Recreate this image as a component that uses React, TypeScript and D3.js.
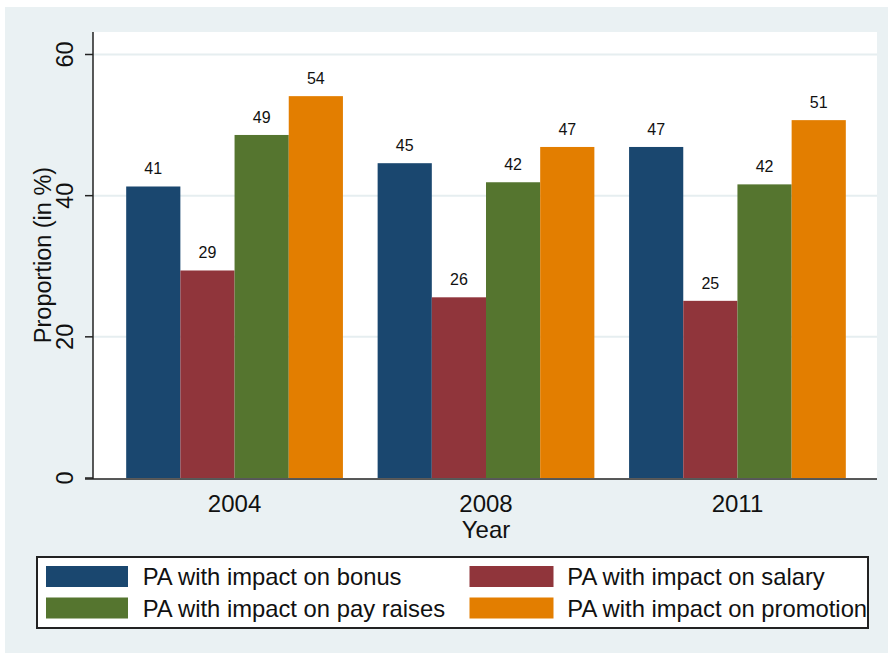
import React from "react";
import * as d3 from "d3";

const years = ["2004", "2008", "2011"];
const seriesNames = [
  "PA with impact on bonus",
  "PA with impact on salary",
  "PA with impact on pay raises",
  "PA with impact on promotion",
];
const bonus = [41.3, 44.6, 46.9];
const salary = [29.4, 25.6, 25.1];
const payRaises = [48.6, 41.9, 41.6];
const promotion = [54.1, 46.9, 50.7];
const colors = ["#1a476f", "#90353b", "#55752f", "#e37e00"];
const yTicks = [0, 20, 40, 60];

const W = 888;
const H = 653;
const plot = { left: 93, right: 877, top: 32, bottom: 479 };
const FONT = "'Liberation Sans', Arial, sans-serif";

export default function App() {
  const series = [bonus, salary, payRaises, promotion];
  const y = d3.scaleLinear().domain([0, 60]).range([478, 54.5]);
  const x0 = d3
    .scaleBand<string>()
    .domain(years)
    .range([plot.left + 1.5, plot.right + 0.5])
    .paddingInner(0.138)
    .paddingOuter(0.126);
  const x1 = d3
    .scaleBand<number>()
    .domain(d3.range(series.length))
    .range([0, x0.bandwidth()])
    .padding(0);
  const fmt = d3.format(".0f");

  const legendCols = [46, 469.5];
  const legendTextCols = [142.7, 567.3];
  const legendRows = [566, 597.5];

  return (
    <svg
      width={W}
      height={H}
      style={{ position: "absolute", left: 0, top: 0, display: "block" }}
      fontFamily={FONT}
    >
      <rect x={0} y={0} width={W} height={H} fill="#ffffff" />
      <rect x={5} y={7} width={W - 5} height={H - 7} fill="#eaf1f3" />
      <rect
        x={plot.left}
        y={plot.top}
        width={plot.right - plot.left}
        height={plot.bottom - plot.top}
        fill="#ffffff"
      />
      {/* gridlines */}
      {yTicks
        .filter((t) => t > 0)
        .map((t) => (
          <line
            key={"g" + t}
            x1={plot.left}
            x2={plot.right}
            y1={y(t)}
            y2={y(t)}
            stroke="#e6eef0"
            strokeWidth={2}
          />
        ))}
      {/* bars */}
      {years.map((yr, gi) => (
        <g key={yr} transform={`translate(${x0(yr)},0)`}>
          {series.map((s, si) => {
            const v = s[gi];
            const bx = x1(si) as number;
            const bw = x1.bandwidth();
            return (
              <g key={si}>
                <rect
                  x={bx}
                  y={y(v)}
                  width={bw}
                  height={y(0) - y(v)}
                  fill={colors[si]}
                />
                <text
                  x={bx + bw / 2}
                  y={y(v) - 12}
                  textAnchor="middle"
                  fontSize={16}
                  fill="#111"
                >
                  {fmt(v)}
                </text>
              </g>
            );
          })}
        </g>
      ))}
      {/* y axis */}
      <line
        x1={plot.left}
        x2={plot.left}
        y1={plot.top}
        y2={plot.bottom}
        stroke="#222"
        strokeWidth={1.5}
      />
      {yTicks.map((t) => (
        <g key={"t" + t}>
          <line
            x1={plot.left - 8}
            x2={plot.left}
            y1={y(t)}
            y2={y(t)}
            stroke="#222"
            strokeWidth={1.5}
          />
          <text
            transform={`translate(73,${y(t)}) rotate(-90)`}
            textAnchor="middle"
            fontSize={23.5}
            fill="#111"
          >
            {t}
          </text>
        </g>
      ))}
      <text
        transform={`translate(51,255) rotate(-90)`}
        textAnchor="middle"
        fontSize={23.5}
        fill="#111"
      >
        Proportion (in %)
      </text>
      {/* x axis */}
      <line
        x1={plot.left - 8}
        x2={plot.right}
        y1={plot.bottom}
        y2={plot.bottom}
        stroke="#222"
        strokeWidth={1.5}
      />
      {years.map((yr) => (
        <text
          key={"xl" + yr}
          x={(x0(yr) as number) + x0.bandwidth() / 2}
          y={511.5}
          textAnchor="middle"
          fontSize={24}
          fill="#111"
        >
          {yr}
        </text>
      ))}
      <text
        x={(plot.left + plot.right) / 2 + 1}
        y={538}
        textAnchor="middle"
        fontSize={24}
        fill="#111"
      >
        Year
      </text>
      {/* legend */}
      <defs>
        <clipPath id="legclip">
          <rect x={37} y={557} width={831} height={71} />
        </clipPath>
      </defs>
      <rect x={37} y={557} width={831} height={71} fill="#ffffff" />
      <g clipPath="url(#legclip)">
        {seriesNames.map((name, i) => {
          const col = i % 2;
          const row = Math.floor(i / 2);
          return (
            <g key={name}>
              <rect
                x={legendCols[col]}
                y={legendRows[row]}
                width={col === 0 ? 82 : 84}
                height={21}
                fill={colors[i]}
              />
              <text
                x={legendTextCols[col]}
                y={legendRows[row] + 19}
                fontSize={23.8}
                fill="#111"
              >
                {name}
              </text>
            </g>
          );
        })}
      </g>
      <rect
        x={37}
        y={557}
        width={831}
        height={71}
        fill="none"
        stroke="#222"
        strokeWidth={2}
      />
    </svg>
  );
}
